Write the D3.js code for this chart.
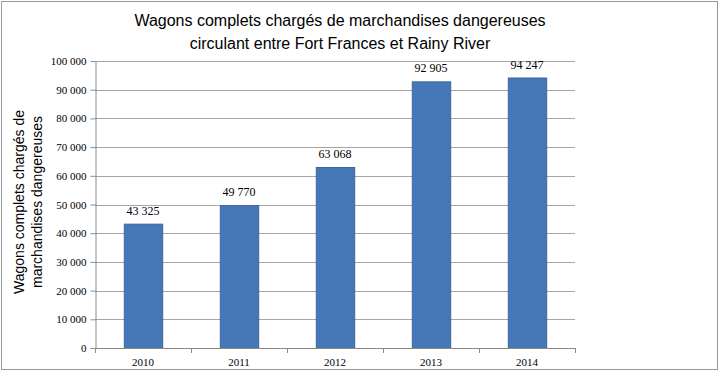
<!DOCTYPE html>
<html><head><meta charset="utf-8">
<script src="https://cdn.jsdelivr.net/npm/d3@7"></script>
<style>body{margin:0;background:#fff}svg{display:block}
.serif text, text.serif{font-family:'Liberation Serif','Times New Roman',serif}
</style>
</head><body>
<svg id="c" width="720" height="373"></svg>
<script>
const categories = ["2010","2011","2012","2013","2014"];
const values = [43325, 49770, 63068, 92905, 94247];
const yTicks = [0,10000,20000,30000,40000,50000,60000,70000,80000,90000,100000];
const titleLines = ["Wagons complets chargés de marchandises dangereuses","circulant entre Fort Frances et Rainy River"];
const yLabelLines = ["Wagons complets chargés de","marchandises dangereuses"];

const svg = d3.select("#c");
const L = 95, R = 575, T = 61, B = 348;
const fmt = v => d3.format(",")(v).replace(/,/g, " ");
const sans = "'Liberation Sans', Arial, sans-serif";

svg.append("rect").attr("x",1.5).attr("y",1.5).attr("width",716).attr("height",368)
  .attr("fill","#fff").attr("stroke","#9a9a9a").attr("stroke-width",1);

const x = d3.scaleBand().domain(categories).range([L,R]).paddingInner(0.6).paddingOuter(0.3);
const y = d3.scaleLinear().domain([0,100000]).range([B,T]);

// gridlines
svg.append("g").selectAll("line").data(yTicks.filter(d=>d>0)).join("line")
  .attr("x1",L).attr("x2",R).attr("y1",d=>Math.round(y(d))+0.5).attr("y2",d=>Math.round(y(d))+0.5)
  .attr("stroke","#a6a6a6").attr("stroke-width",1);

// y axis
const ya = svg.append("g").attr("class","serif").attr("transform",`translate(${L+0.5},0)`)
  .call(d3.axisLeft(y).tickValues(yTicks).tickFormat(fmt).tickSize(5).tickSizeOuter(0));
ya.attr("font-size", 11);
ya.select(".domain").attr("stroke","#8c8c8c");
ya.selectAll(".tick line").attr("stroke","#8c8c8c");
ya.selectAll(".tick text").attr("fill","#000").attr("x",-9);

// bars
svg.append("g").selectAll("rect").data(values).join("rect")
  .attr("x",(d,i)=>x(categories[i])+0.5).attr("width",x.bandwidth())
  .attr("y",d=>y(d)+0.5).attr("height",d=>B-y(d))
  .attr("fill","#4677b6").attr("stroke","#3a65a0").attr("stroke-width",1);

// data labels
svg.append("g").attr("class","serif").attr("font-size",12)
  .selectAll("text").data(values).join("text")
  .attr("x",(d,i)=>x(categories[i])+x.bandwidth()/2).attr("y",d=>y(d)-9)
  .attr("text-anchor","middle")
  .text(d=>fmt(d));

// x axis
const xb = d3.scaleLinear().domain([0,categories.length]).range([L,R]);
const xg = svg.append("g").attr("class","serif").attr("font-size",11);
xg.append("line").attr("x1",L).attr("x2",R).attr("y1",B+0.5).attr("y2",B+0.5).attr("stroke","#8c8c8c");
xg.selectAll("line.t").data(d3.range(categories.length+1)).join("line").attr("class","t")
  .attr("x1",d=>Math.round(xb(d))+0.5).attr("x2",d=>Math.round(xb(d))+0.5)
  .attr("y1",B).attr("y2",B+5).attr("stroke","#8c8c8c");
xg.selectAll("text").data(categories).join("text")
  .attr("x",d=>x(d)+x.bandwidth()/2).attr("y",B+18).attr("text-anchor","middle")
  .text(d=>d);

// title
svg.append("g").attr("font-family", sans).attr("font-size",16)
  .selectAll("text").data(titleLines).join("text")
  .attr("x",340).attr("y",(d,i)=>26+i*23).attr("text-anchor","middle")
  .text(d=>d);

// y label
svg.append("g").attr("transform","translate(0,202) rotate(-90)")
  .attr("font-family", sans).attr("font-size",14)
  .selectAll("text").data(yLabelLines).join("text")
  .attr("x",0).attr("y",(d,i)=>24+i*18).attr("text-anchor","middle")
  .text(d=>d);
</script>
</body></html>
